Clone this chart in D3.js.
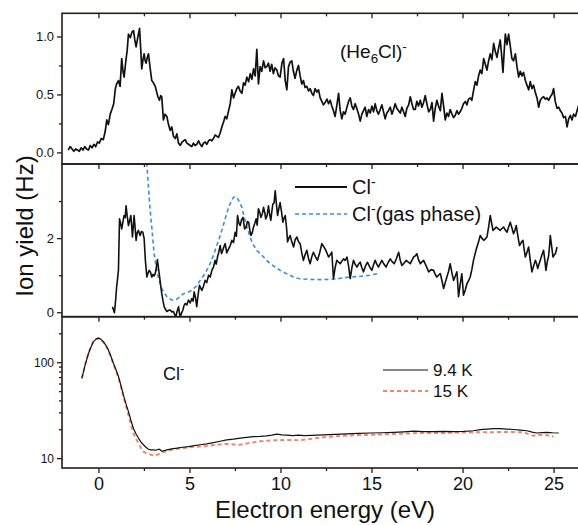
<!DOCTYPE html>
<html lang="en">
<head>
<meta charset="UTF-8">
<title>Ion yield vs electron energy</title>
<script src="https://d3js.org/d3.v7.min.js"></script>
<style>
  body { margin: 0; background: #fff; }
  svg { font-family: "Liberation Sans", Arial, sans-serif; }
  .frame { fill: none; stroke: #2a1c16; stroke-width: 1.6; }
  .axis path { display: none; }
  .axis line { stroke: #2a1c16; stroke-width: 1.3; }
  .axis text { fill: #111; }
</style>
</head>
<body>
<div id="chart"></div>
<script>
// x range of all panels (eV)
const xDomain = [-2, 27];
const xMajor = [0, 5, 10, 15, 20, 25];
const xMinor = [2.5, 7.5, 12.5, 17.5, 22.5];

// top panel: (He6Cl)- yield
const topTicks = [0.0, 0.5, 1.0];
const topMinor = [0.25, 0.75];
const he6cl = [[-1.66,0.02],[-1.55,0.05],[-1.45,0.03],[-1.35,0.01],[-1.25,0.03],[-1.15,0.02],[-1.05,0.01],[-0.95,0.04],[-0.85,0.02],[-0.75,0.05],[-0.65,0.03],[-0.55,0.02],[-0.45,0.06],[-0.35,0.04],[-0.25,0.07],[-0.15,0.05],[-0.05,0.09],[0.05,0.08],[0.15,0.12],[0.27,0.11],[0.37,0.18],[0.46,0.28],[0.55,0.24],[0.65,0.33],[0.74,0.37],[0.84,0.42],[0.93,0.55],[1.0,0.59],[1.1,0.62],[1.19,0.57],[1.28,0.81],[1.35,0.70],[1.41,0.65],[1.5,0.78],[1.58,0.88],[1.65,1.02],[1.75,0.99],[1.85,1.04],[1.93,1.05],[2.0,0.97],[2.07,0.91],[2.16,0.99],[2.26,1.07],[2.32,0.90],[2.38,0.72],[2.45,0.80],[2.51,0.85],[2.57,0.79],[2.62,0.77],[2.69,0.82],[2.75,0.85],[2.84,0.73],[2.93,0.62],[3.02,0.60],[3.12,0.57],[3.2,0.52],[3.27,0.48],[3.35,0.45],[3.42,0.49],[3.48,0.48],[3.57,0.28],[3.66,0.33],[3.76,0.31],[3.85,0.24],[3.94,0.19],[4.03,0.22],[4.12,0.14],[4.22,0.12],[4.31,0.16],[4.4,0.08],[4.5,0.06],[4.6,0.09],[4.68,0.10],[4.77,0.11],[4.86,0.08],[4.95,0.07],[5.04,0.06],[5.13,0.05],[5.22,0.08],[5.31,0.06],[5.4,0.07],[5.5,0.10],[5.59,0.07],[5.68,0.05],[5.77,0.08],[5.86,0.09],[5.95,0.07],[6.05,0.10],[6.14,0.11],[6.23,0.10],[6.32,0.12],[6.41,0.15],[6.5,0.14],[6.6,0.13],[6.69,0.17],[6.78,0.22],[6.87,0.26],[6.96,0.31],[7.05,0.29],[7.15,0.36],[7.24,0.42],[7.33,0.54],[7.42,0.47],[7.51,0.51],[7.6,0.55],[7.69,0.57],[7.78,0.53],[7.88,0.51],[7.97,0.60],[8.06,0.58],[8.15,0.65],[8.25,0.61],[8.34,0.68],[8.43,0.63],[8.52,0.72],[8.61,0.66],[8.70,0.89],[8.79,0.59],[8.88,0.74],[8.97,0.70],[9.07,0.79],[9.16,0.73],[9.25,0.74],[9.34,0.77],[9.43,0.70],[9.52,0.76],[9.61,0.68],[9.7,0.73],[9.8,0.71],[9.89,0.66],[9.98,0.65],[10.08,0.77],[10.17,0.81],[10.26,0.62],[10.35,0.54],[10.44,0.74],[10.53,0.78],[10.62,0.79],[10.71,0.70],[10.8,0.64],[10.9,0.71],[10.99,0.75],[11.08,0.66],[11.17,0.59],[11.26,0.62],[11.35,0.56],[11.45,0.57],[11.54,0.53],[11.63,0.55],[11.72,0.51],[11.81,0.49],[11.9,0.55],[12.0,0.52],[12.09,0.54],[12.18,0.47],[12.27,0.44],[12.36,0.41],[12.45,0.43],[12.55,0.46],[12.64,0.42],[12.73,0.45],[12.82,0.40],[12.91,0.36],[13.0,0.31],[13.09,0.40],[13.19,0.51],[13.28,0.36],[13.37,0.29],[13.46,0.35],[13.55,0.33],[13.65,0.39],[13.74,0.44],[13.83,0.47],[13.92,0.40],[14.01,0.37],[14.1,0.42],[14.19,0.38],[14.29,0.33],[14.38,0.27],[14.47,0.33],[14.56,0.36],[14.65,0.39],[14.74,0.31],[14.84,0.37],[14.93,0.34],[15.02,0.40],[15.11,0.35],[15.2,0.42],[15.29,0.36],[15.38,0.33],[15.48,0.37],[15.57,0.41],[15.66,0.35],[15.75,0.29],[15.84,0.34],[15.93,0.36],[16.03,0.39],[16.12,0.33],[16.21,0.37],[16.3,0.42],[16.39,0.38],[16.49,0.36],[16.58,0.34],[16.67,0.39],[16.76,0.35],[16.85,0.31],[16.94,0.38],[17.04,0.41],[17.13,0.48],[17.22,0.42],[17.31,0.37],[17.4,0.37],[17.49,0.44],[17.58,0.40],[17.68,0.45],[17.77,0.39],[17.86,0.43],[17.95,0.49],[18.04,0.42],[18.14,0.35],[18.23,0.37],[18.32,0.43],[18.41,0.27],[18.5,0.38],[18.59,0.45],[18.68,0.40],[18.78,0.36],[18.87,0.51],[18.96,0.40],[19.05,0.28],[19.14,0.34],[19.23,0.31],[19.32,0.37],[19.42,0.33],[19.51,0.30],[19.6,0.32],[19.69,0.36],[19.78,0.33],[19.87,0.35],[19.96,0.38],[20.05,0.42],[20.15,0.44],[20.24,0.41],[20.33,0.46],[20.42,0.47],[20.51,0.45],[20.6,0.53],[20.7,0.61],[20.79,0.58],[20.88,0.66],[20.97,0.71],[21.06,0.68],[21.16,0.81],[21.25,0.76],[21.34,0.71],[21.43,0.79],[21.52,0.85],[21.61,0.80],[21.71,0.94],[21.8,0.87],[21.89,0.82],[21.98,0.90],[22.07,0.97],[22.14,0.85],[22.22,0.69],[22.29,0.88],[22.35,1.02],[22.44,0.93],[22.53,1.02],[22.62,0.92],[22.71,0.81],[22.8,0.79],[22.9,0.85],[22.99,0.74],[23.08,0.65],[23.17,0.70],[23.26,0.66],[23.35,0.69],[23.45,0.62],[23.54,0.58],[23.63,0.54],[23.72,0.61],[23.81,0.55],[23.9,0.58],[23.99,0.52],[24.09,0.47],[24.18,0.39],[24.27,0.45],[24.36,0.47],[24.45,0.48],[24.54,0.46],[24.64,0.47],[24.73,0.45],[24.82,0.48],[24.91,0.50],[25.0,0.55],[25.09,0.44],[25.19,0.38],[25.28,0.39],[25.37,0.36],[25.46,0.34],[25.55,0.30],[25.65,0.31],[25.74,0.22],[25.83,0.29],[25.92,0.32],[26.01,0.28],[26.1,0.33],[26.2,0.31],[26.29,0.36],[26.38,0.41],[26.5,0.37],[26.7,0.39]];

// middle panel: Cl- from droplets and gas phase Cl-
const midTicks = [0, 2];
const midMinor = [1, 3];
const clDroplet = [[0.77,0.15],[0.88,-0.01],[0.95,0.35],[1.0,0.68],[1.05,0.9],[1.1,1.13],[1.16,2.52],[1.22,2.40],[1.28,2.25],[1.35,2.45],[1.41,2.61],[1.47,2.55],[1.52,2.87],[1.58,2.60],[1.65,2.34],[1.72,2.48],[1.78,2.61],[1.83,2.30],[1.87,2.03],[1.92,2.35],[1.96,2.61],[2.02,2.25],[2.07,1.94],[2.13,2.15],[2.2,2.21],[2.25,2.12],[2.29,2.07],[2.36,2.18],[2.44,2.16],[2.48,2.05],[2.51,2.0],[2.58,1.40],[2.66,0.95],[2.72,1.05],[2.79,1.13],[2.86,1.08],[2.93,0.95],[3.0,1.02],[3.06,0.98],[3.12,1.04],[3.18,1.20],[3.24,1.42],[3.3,1.18],[3.35,1.0],[3.42,0.72],[3.48,0.5],[3.55,0.30],[3.61,0.15],[3.68,0.08],[3.76,0.02],[3.85,0.05],[3.94,0.06],[4.03,0.01],[4.12,0.02],[4.18,-0.05],[4.25,-0.12],[4.32,0.02],[4.4,0.15],[4.45,-0.02],[4.49,-0.12],[4.56,-0.03],[4.64,0.06],[4.7,0.18],[4.77,0.24],[4.86,0.20],[4.95,0.33],[5.04,0.25],[5.13,0.37],[5.2,0.30],[5.26,0.55],[5.33,0.40],[5.4,0.15],[5.47,0.45],[5.55,0.73],[5.62,0.65],[5.68,0.59],[5.77,0.70],[5.86,0.86],[5.95,0.80],[6.05,1.0],[6.14,0.95],[6.23,1.13],[6.32,1.22],[6.41,1.4],[6.47,1.30],[6.54,1.49],[6.61,1.62],[6.69,1.8],[6.76,1.58],[6.83,1.67],[6.9,1.78],[6.96,1.85],[7.05,1.60],[7.15,1.71],[7.24,1.80],[7.33,1.94],[7.42,1.88],[7.51,2.16],[7.58,2.05],[7.64,2.61],[7.72,2.40],[7.79,2.34],[7.86,2.50],[7.94,2.56],[8.03,2.25],[8.12,2.3],[8.18,2.45],[8.25,2.43],[8.32,2.20],[8.38,2.07],[8.45,2.15],[8.52,2.3],[8.59,2.40],[8.66,2.52],[8.72,2.35],[8.79,2.79],[8.86,2.70],[8.92,2.56],[9.0,2.65],[9.07,2.83],[9.13,2.70],[9.19,2.52],[9.27,2.62],[9.34,2.87],[9.4,2.65],[9.47,2.48],[9.52,2.70],[9.58,2.92],[9.65,2.95],[9.71,3.28],[9.78,2.90],[9.84,2.61],[9.91,2.80],[9.98,2.96],[10.06,2.70],[10.13,2.43],[10.2,2.55],[10.26,2.61],[10.33,2.30],[10.39,1.9],[10.46,2.00],[10.53,2.07],[10.62,1.90],[10.72,1.76],[10.8,1.95],[10.9,2.03],[10.99,1.90],[11.08,1.85],[11.17,1.60],[11.26,1.4],[11.35,1.55],[11.45,1.67],[11.54,1.45],[11.63,1.31],[11.72,1.50],[11.81,1.62],[11.92,1.50],[12.03,1.4],[12.15,1.60],[12.27,1.85],[12.36,1.78],[12.45,1.71],[12.55,1.60],[12.64,1.49],[12.73,1.55],[12.82,1.62],[12.86,1.30],[12.91,0.91],[13.0,1.20],[13.09,1.4],[13.19,1.35],[13.28,1.31],[13.37,1.38],[13.46,1.44],[13.55,1.40],[13.65,1.49],[13.74,1.25],[13.83,0.91],[13.92,1.20],[14.01,1.4],[14.1,1.30],[14.2,1.22],[14.29,1.30],[14.38,1.35],[14.47,1.20],[14.56,1.09],[14.67,1.25],[14.78,1.35],[14.9,1.22],[15.02,1.13],[15.11,1.28],[15.2,1.4],[15.29,1.30],[15.38,1.22],[15.48,1.32],[15.57,1.4],[15.68,1.30],[15.8,1.22],[15.92,1.35],[16.03,1.44],[16.14,1.36],[16.25,1.31],[16.37,1.45],[16.49,1.62],[16.58,1.40],[16.67,1.26],[16.79,1.33],[16.91,1.4],[17.02,1.35],[17.13,1.31],[17.22,1.40],[17.31,1.49],[17.4,1.52],[17.49,1.58],[17.58,1.42],[17.68,1.31],[17.77,1.36],[17.86,1.4],[18.0,1.25],[18.14,1.09],[18.27,1.15],[18.41,1.13],[18.5,1.02],[18.59,0.95],[18.68,1.00],[18.78,1.04],[18.87,0.85],[18.96,0.64],[19.05,0.80],[19.14,0.95],[19.23,1.10],[19.32,1.31],[19.42,1.05],[19.51,0.86],[19.6,0.98],[19.69,1.09],[19.74,0.75],[19.78,0.42],[19.87,0.75],[19.96,1.04],[20.0,0.80],[20.05,0.46],[20.15,0.60],[20.24,0.77],[20.33,0.85],[20.42,0.95],[20.51,1.15],[20.6,1.4],[20.7,1.60],[20.79,1.76],[20.88,1.90],[20.97,2.07],[21.06,2.00],[21.16,1.94],[21.25,1.98],[21.34,2.03],[21.43,2.30],[21.52,2.61],[21.6,2.40],[21.67,2.21],[21.76,2.25],[21.85,2.3],[21.96,2.25],[22.07,2.21],[22.16,2.26],[22.25,2.3],[22.35,2.22],[22.44,2.16],[22.53,2.30],[22.62,2.43],[22.71,2.28],[22.8,2.12],[22.88,2.22],[22.95,2.34],[23.04,2.05],[23.13,1.8],[23.22,1.88],[23.32,1.94],[23.38,1.70],[23.45,1.49],[23.54,1.62],[23.63,1.76],[23.72,1.40],[23.81,1.09],[23.9,1.25],[24.0,1.4],[24.07,1.30],[24.13,1.18],[24.2,1.30],[24.27,1.4],[24.36,1.55],[24.45,1.67],[24.52,1.40],[24.58,1.13],[24.65,1.35],[24.73,1.53],[24.78,1.80],[24.82,2.07],[24.9,1.75],[24.97,1.49],[25.04,1.55],[25.1,1.58],[25.19,1.76]];
const clGas = [[2.60,4.6],[2.66,4.0],[2.75,3.36],[2.84,2.75],[2.93,2.3],[3.0,1.9],[3.06,1.58],[3.15,1.28],[3.24,1.04],[3.36,0.82],[3.48,0.64],[3.62,0.52],[3.76,0.42],[3.9,0.37],[4.03,0.33],[4.17,0.33],[4.3,0.35],[4.48,0.42],[4.67,0.5],[4.9,0.54],[5.13,0.59],[5.36,0.70],[5.59,0.86],[5.82,1.02],[6.05,1.22],[6.23,1.42],[6.41,1.67],[6.6,1.94],[6.78,2.21],[6.96,2.52],[7.15,2.83],[7.3,3.0],[7.42,3.1],[7.5,3.12],[7.6,3.1],[7.74,2.98],[7.88,2.83],[8.0,2.58],[8.15,2.3],[8.3,2.08],[8.43,1.9],[8.56,1.78],[8.7,1.67],[8.88,1.58],[9.07,1.49],[9.25,1.40],[9.43,1.31],[9.7,1.22],[9.98,1.13],[10.25,1.06],[10.53,1.0],[10.71,0.95],[10.99,0.91],[11.45,0.89],[12.18,0.88],[12.91,0.89],[13.65,0.94],[14.38,0.97],[14.9,1.0],[15.3,1.04]];

// bottom panel: Cl- at two temperatures (log scale)
const botTicks = [10, 100];
const botMinor = [20, 30, 40, 50, 60, 70, 80, 90, 200];
const cl94K = [[-0.91,68],[-0.72,95],[-0.54,124],[-0.4,145],[-0.27,164],[-0.13,174],[0,178],[0.13,174],[0.27,164],[0.41,150],[0.55,134],[0.68,116],[0.82,98],[0.96,84],[1.1,71],[1.24,57],[1.37,45.6],[1.51,37],[1.65,30.6],[1.78,25],[1.92,20.5],[2.06,18],[2.2,16.2],[2.33,14.8],[2.47,13.8],[2.61,13],[2.75,12.4],[2.88,12.2],[3.02,12.2],[3.16,12.1],[3.3,12.4],[3.39,12.3],[3.48,11.8],[3.62,12.0],[3.76,12.2],[4.03,12.5],[4.31,12.7],[4.63,13.0],[4.95,13.2],[5.27,13.5],[5.59,13.8],[5.95,14.1],[6.32,14.5],[6.68,15.0],[7.05,15.5],[7.42,15.8],[7.79,16.2],[8.15,16.5],[8.52,16.8],[8.88,16.9],[9.25,17.1],[9.52,17.4],[9.8,17.8],[10.08,17.5],[10.35,17.4],[10.67,17.2],[10.99,17.4],[11.3,17.2],[11.7,17.3],[12.36,17.5],[13.0,17.7],[13.65,17.9],[14.3,18.1],[14.93,18.3],[15.57,18.4],[16.21,18.6],[16.76,18.8],[17.31,19.1],[17.86,18.9],[18.41,18.9],[18.96,19.0],[19.51,18.9],[20.05,19.0],[20.6,19.3],[20.97,19.8],[21.34,20.1],[21.7,20.3],[22.07,20.3],[22.44,20.1],[22.8,19.9],[23.17,19.6],[23.54,19.3],[23.82,18.7],[24.09,18.3],[24.36,18.5],[24.64,18.6],[24.95,18.4],[25.28,18.3]];
const cl15K = [[-0.91,68],[-0.72,96],[-0.54,126],[-0.4,147],[-0.27,165],[-0.13,175],[0,178],[0.13,173],[0.27,162],[0.41,148],[0.55,132],[0.68,114],[0.82,96],[0.96,82],[1.1,69],[1.24,55],[1.37,44],[1.51,35],[1.65,28],[1.78,22.5],[1.92,18.2],[2.06,16],[2.2,14.3],[2.33,12.8],[2.47,11.7],[2.61,11.3],[2.75,11.1],[2.93,10.8],[3.12,10.6],[3.3,11.0],[3.44,11.3],[3.57,11.6],[3.85,12.0],[4.12,12.4],[4.58,12.7],[5.04,13.0],[5.5,13.2],[5.95,13.4],[6.5,13.8],[7.05,14.1],[7.42,13.9],[7.79,13.8],[8.33,14.4],[8.88,15.0],[9.43,15.3],[9.98,15.4],[10.5,15.5],[10.99,15.4],[11.6,15.8],[12.18,16.4],[12.9,16.8],[13.65,17.2],[14.3,17.4],[14.93,17.5],[15.7,17.7],[16.4,17.9],[17.04,18.1],[17.68,18.3],[18.3,18.3],[18.96,18.3],[19.6,18.5],[20.24,18.6],[20.8,18.6],[21.34,18.6],[21.9,18.7],[22.44,18.8],[22.9,18.7],[23.35,18.6],[23.62,17.8],[23.9,17.1],[24.18,17.4],[24.45,17.5],[24.72,17.2],[25.0,16.8]];

const W = 578, H = 525;
const left = 62, right = 590;
const panels = [
  {id: "top", y0: 13.3, y1: 164},
  {id: "mid", y0: 164, y1: 316.7},
  {id: "bot", y0: 316.7, y1: 468}
];

const svg = d3.select("#chart").append("svg")
  .attr("width", W).attr("height", H);

const x = d3.scaleLinear().domain(xDomain).range([left, right]);
const yTop = d3.scaleLinear().domain([-0.1, 1.2]).range([panels[0].y1, panels[0].y0]);
const yMid = d3.scaleLinear().domain([-0.12, 4]).range([panels[1].y1, panels[1].y0]);
const yBot = d3.scaleLog().domain([7.9, 298]).range([panels[2].y1, panels[2].y0]);

const defs = svg.append("defs");
panels.forEach(p => {
  defs.append("clipPath").attr("id", "clip-" + p.id)
    .append("rect").attr("x", left).attr("y", p.y0)
    .attr("width", right - left).attr("height", p.y1 - p.y0);
});

// ticks: top edge inward, left edge outward
function panelAxes(p, y, major, minor, fmt, fontSize) {
  svg.append("g").attr("class", "axis").attr("transform", `translate(0,${p.y0})`)
    .call(d3.axisTop(x).tickValues(xMajor).tickSize(-5).tickFormat(""));
  svg.append("g").attr("class", "axis").attr("transform", `translate(0,${p.y0})`)
    .call(d3.axisTop(x).tickValues(xMinor).tickSize(-3).tickFormat(""));
  svg.append("g").attr("class", "axis").attr("transform", `translate(${left},0)`)
    .call(d3.axisLeft(y).tickValues(major).tickSize(5).tickPadding(3).tickFormat(fmt))
    .selectAll("text").style("font-size", fontSize + "px");
  svg.append("g").attr("class", "axis").attr("transform", `translate(${left},0)`)
    .call(d3.axisLeft(y).tickValues(minor).tickSize(3).tickFormat(""));
}
panelAxes(panels[0], yTop, topTicks, topMinor, d3.format(".1f"), 13);
panelAxes(panels[1], yMid, midTicks, midMinor, d3.format("d"), 13);
panelAxes(panels[2], yBot, botTicks, botMinor, d3.format("d"), 12);

// bottom x axis
svg.append("g").attr("class", "axis").attr("transform", `translate(0,${panels[2].y1})`)
  .call(d3.axisBottom(x).tickValues(xMajor).tickSize(5).tickPadding(4).tickFormat(d3.format("d")))
  .selectAll("text").style("font-size", "18px");
svg.append("g").attr("class", "axis").attr("transform", `translate(0,${panels[2].y1})`)
  .call(d3.axisBottom(x).tickValues(xMinor).tickSize(3).tickFormat(""));

function drawLine(p, y, data, color, width, dash) {
  const line = d3.line().x(d => x(d[0])).y(d => y(d[1]));
  svg.append("path").datum(data)
    .attr("clip-path", `url(#clip-${p.id})`)
    .attr("fill", "none").attr("stroke", color)
    .attr("stroke-width", width).attr("stroke-linejoin", "round")
    .attr("stroke-dasharray", dash || null)
    .attr("d", line);
}

drawLine(panels[0], yTop, he6cl, "#111", 1.7);
drawLine(panels[1], yMid, clGas, "#3a8ee6", 1.6, "4,3");
drawLine(panels[1], yMid, clDroplet, "#111", 1.6);
drawLine(panels[2], yBot, cl15K, "#f4876a", 2, "4,3");
drawLine(panels[2], yBot, cl94K, "#111", 1.2);

// frames
panels.forEach(p => {
  svg.append("rect").attr("class", "frame")
    .attr("x", left).attr("y", p.y0)
    .attr("width", right - left).attr("height", p.y1 - p.y0);
});

// labels inside panels
function label(xp, yp, size, parts) {
  const t = svg.append("text").attr("x", xp).attr("y", yp)
    .style("font-size", size + "px").attr("fill", "#111");
  parts.forEach(([s, kind]) => {
    const ts = t.append("tspan").text(s);
    if (kind === "sub") ts.attr("dy", 5).style("font-size", (size * 0.7) + "px");
    if (kind === "afterSub") ts.attr("dy", -5);
    if (kind === "sup") ts.attr("dy", -7).style("font-size", (size * 0.7) + "px");
    if (kind === "afterSup") ts.attr("dy", 7);
  });
}
label(340, 58, 19, [["(He"], ["6", "sub"], ["Cl)", "afterSub"], ["-", "sup"]]);

// middle legend
svg.append("line").attr("x1", 295).attr("x2", 347).attr("y1", 187).attr("y2", 187)
  .attr("stroke", "#111").attr("stroke-width", 1.8);
label(352, 194, 20, [["Cl"], ["-", "sup"]]);
svg.append("line").attr("x1", 295).attr("x2", 347).attr("y1", 214).attr("y2", 214)
  .attr("stroke", "#3a8ee6").attr("stroke-width", 1.6).attr("stroke-dasharray", "4,3");
label(352, 221, 20, [["Cl"], ["-", "sup"], ["(gas phase)", "afterSup"]]);

// bottom labels
label(163, 380, 18, [["Cl"], ["-", "sup"]]);
svg.append("line").attr("x1", 383).attr("x2", 428).attr("y1", 370).attr("y2", 370)
  .attr("stroke", "#111").attr("stroke-width", 1.2);
label(433, 376, 17, [["9.4 K"]]);
svg.append("line").attr("x1", 383).attr("x2", 428).attr("y1", 391).attr("y2", 391)
  .attr("stroke", "#f4876a").attr("stroke-width", 2).attr("stroke-dasharray", "4,3");
label(433, 397, 17, [["15 K"]]);

// axis titles
svg.append("text").attr("transform", "translate(33,226) rotate(-90)")
  .attr("text-anchor", "middle").style("font-size", "24px").attr("fill", "#111")
  .text("Ion yield (Hz)");
svg.append("text").attr("x", 325).attr("y", 518)
  .attr("text-anchor", "middle").style("font-size", "24px").attr("fill", "#111")
  .text("Electron energy (eV)");
</script>
</body>
</html>
